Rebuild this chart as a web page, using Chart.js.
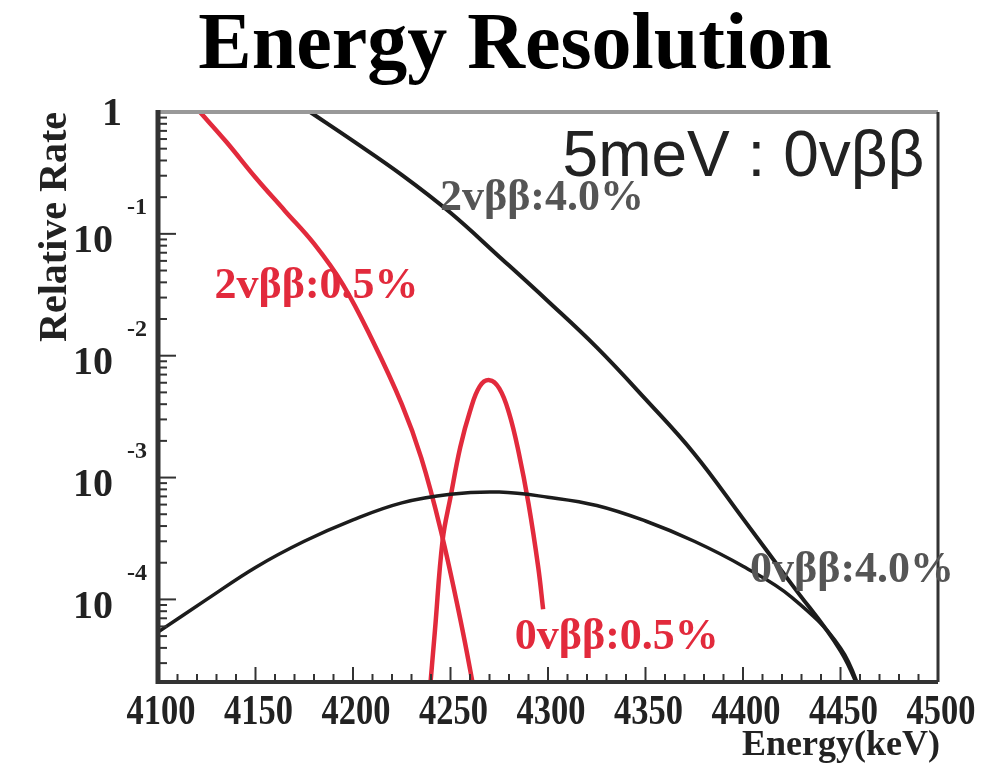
<!DOCTYPE html>
<html>
<head>
<meta charset="utf-8">
<title>Energy Resolution</title>
<script src="https://cdn.jsdelivr.net/npm/chart.js@4/dist/chart.umd.min.js"></script>
<style>
  html, body { margin: 0; padding: 0; background: #fff; }
  canvas { display: block; }
</style>
</head>
<body>
<canvas id="erChart" width="984" height="763"></canvas>
<script>
'use strict';

/* ── data ──────────────────────────────────── */
const energyLabels = [4100, 4150, 4200, 4250, 4300, 4350, 4400, 4450, 4500];
const rateDecades  = [1, 1e-1, 1e-2, 1e-3, 1e-4];

// 2vββ, 0.5% resolution
const red2vE = [4121.5, 4135, 4150, 4165, 4180, 4195, 4210, 4225, 4235, 4245, 4255, 4263];
const red2vR = [1.0, 0.57, 0.29, 0.155, 0.083, 0.038, 0.0133, 4.0e-3, 1.45e-3, 3.7e-4, 6.9e-5, 1.5e-5];

// 0vββ, 0.5% resolution
const red0vE = [4239, 4242, 4246, 4250, 4255, 4260, 4265, 4270, 4275, 4280, 4285, 4290, 4295, 4297.5];
const red0vR = [1.5e-5, 5.5e-5, 3.1e-4, 6.9e-4, 1.77e-3, 3.5e-3, 5.6e-3, 6.3e-3, 5.4e-3, 3.4e-3, 1.6e-3, 6.1e-4, 1.83e-4, 8.3e-5];

// 0vββ, 4.0% resolution
const blk0vE = [4100, 4125, 4150, 4175, 4200, 4225, 4250, 4275, 4300, 4325, 4350, 4375, 4400, 4425, 4450, 4462];
const blk0vR = [5.4e-5, 1.0e-4, 1.83e-4, 3.0e-4, 4.5e-4, 6.2e-4, 7.3e-4, 7.6e-4, 6.9e-4, 5.9e-4, 4.4e-4, 3.0e-4, 1.87e-4, 1.04e-4, 4.0e-5, 1.5e-5];

// 2vββ, 4.0% resolution
const blk2vE = [4178, 4200, 4225, 4250, 4275, 4300, 4325, 4350, 4375, 4400, 4425, 4450, 4462];
const blk2vR = [1.0, 0.58, 0.305, 0.149, 0.065, 0.028, 0.0117, 4.4e-3, 1.57e-3, 4.6e-4, 1.33e-4, 3.8e-5, 1.5e-5];

/* ── styles ────────────────────────────────── */
const RED   = '#e22a3c';
const BLACK = '#1c1c1c';
const GRAY  = '#555';
const SERIF = '"Liberation Serif", "DejaVu Serif", serif';
const SANS  = '"Liberation Sans", Arial, sans-serif';

// text notes, anchored in data coordinates
const notes = [
  { text: '5meV : 0vββ', e: 4493,   r: 0.30,    color: '#222', font: `64px ${SANS}`,       align: 'right' },
  { text: '2vββ:4.0%',   e: 4244.6, r: 0.158,   color: GRAY,   font: `bold 44px ${SERIF}`, align: 'left' },
  { text: '2vββ:0.5%',   e: 4129,   r: 0.030,   color: RED,    font: `bold 44px ${SERIF}`, align: 'left' },
  { text: '0vββ:0.5%',   e: 4283,   r: 3.9e-5,  color: RED,    font: `bold 44px ${SERIF}`, align: 'left' },
  { text: '0vββ:4.0%',   e: 4403.6, r: 1.38e-4, color: GRAY,   font: `bold 44px ${SERIF}`, align: 'left' },
];

/* ── helpers ───────────────────────────────── */
function pts(xs, ys) { return xs.map((x, i) => ({ x, y: ys[i] })); }
function seg(ctx, x1, y1, x2, y2) { ctx.beginPath(); ctx.moveTo(x1, y1); ctx.lineTo(x2, y2); ctx.stroke(); }
function line(data, color, width) {
  return { data, borderColor: color, borderWidth: width, pointRadius: 0, fill: false, tension: 0.4 };
}
// condensed text, like the squeezed ROOT labels
function squeezed(ctx, text, x, y, sx) {
  ctx.save();
  ctx.translate(x, y);
  ctx.scale(sx, 1);
  ctx.fillText(text, 0, 0);
  ctx.restore();
}

/* ── frame, ticks, labels (ROOT style) ────── */
const rootFrame = {
  id: 'rootFrame',
  afterDraw(chart) {
    const { ctx, chartArea: a, scales: { x, y } } = chart;
    ctx.save();

    // inner tick marks
    ctx.strokeStyle = '#333';
    ctx.lineWidth = 2;
    x.ticks.forEach(t => {
      const px = x.getPixelForValue(t.value);
      seg(ctx, px, a.bottom, px, a.bottom - (t.value % 50 === 0 ? 15 : 8));
    });
    y.ticks.forEach(t => {
      const exp = Math.floor(Math.log10(t.value) + 1e-9);
      const sig = t.value / Math.pow(10, exp);
      if (Math.abs(sig - Math.round(sig)) > 1e-6) return;
      const py = y.getPixelForValue(t.value);
      seg(ctx, a.left, py, a.left + (Math.round(sig) === 1 ? 18 : 9), py);
    });

    // frame
    ctx.lineWidth = 4;
    ctx.strokeStyle = '#999';
    seg(ctx, a.left, a.top, a.right, a.top);
    ctx.lineWidth = 3;
    ctx.strokeStyle = '#333';
    seg(ctx, a.right, a.top, a.right, a.bottom);
    ctx.lineWidth = 5;
    seg(ctx, a.left, a.top - 2, a.left, a.bottom + 2);
    ctx.lineWidth = 4;
    seg(ctx, a.left, a.bottom, a.right, a.bottom);

    // x labels
    ctx.fillStyle = '#222';
    ctx.font = `bold 42px ${SERIF}`;
    ctx.textAlign = 'center';
    ctx.textBaseline = 'alphabetic';
    energyLabels.forEach(v => squeezed(ctx, String(v), x.getPixelForValue(v) + 3, a.bottom + 42, 0.82));

    // y labels: 1, 10^-n
    rateDecades.forEach(v => {
      const py = y.getPixelForValue(v);
      const n = Math.round(Math.log10(v));
      ctx.textBaseline = 'middle';
      ctx.textAlign = 'right';
      ctx.font = `bold 40px ${SERIF}`;
      if (n === 0) { ctx.fillText('1', a.left - 36, py + 3); return; }
      ctx.fillText('10', a.left - 45, py + 8);
      ctx.textAlign = 'left';
      ctx.font = `bold 24px ${SERIF}`;
      ctx.fillText(String(n), a.left - 31, py - 26);
    });

    // axis titles
    ctx.font = `bold 36px ${SERIF}`;
    ctx.textAlign = 'right';
    ctx.textBaseline = 'alphabetic';
    ctx.fillText('Energy(keV)', a.right + 2, a.bottom + 73);

    ctx.save();
    ctx.translate(66, a.top);
    ctx.rotate(-Math.PI / 2);
    ctx.font = `bold 40px ${SERIF}`;
    ctx.fillText('Relative Rate', 0, 0);
    ctx.restore();

    // title
    ctx.fillStyle = '#000';
    ctx.font = `bold 80px ${SERIF}`;
    ctx.textAlign = 'center';
    ctx.fillText('Energy Resolution', 515, 68);

    // notes
    notes.forEach(nt => {
      ctx.fillStyle = nt.color;
      ctx.font = nt.font;
      ctx.textAlign = nt.align;
      ctx.fillText(nt.text, x.getPixelForValue(nt.e), y.getPixelForValue(nt.r));
    });

    ctx.restore();
  }
};

/* ── chart ─────────────────────────────────── */
function init() {
  const canvas = document.getElementById('erChart');
  new Chart(canvas.getContext('2d'), {
    type: 'line',
    data: {
      datasets: [
        line(pts(blk2vE, blk2vR), BLACK, 4),
        line(pts(blk0vE, blk0vR), BLACK, 3.5),
        line(pts(red2vE, red2vR), RED, 4.5),
        line(pts(red0vE, red0vR), RED, 4.5),
      ],
    },
    options: {
      responsive: false,
      animation: false,
      events: [],
      layout: { padding: { left: 158, top: 112, right: 46, bottom: 81 } },
      plugins: { legend: { display: false }, tooltip: { enabled: false } },
      scales: {
        x: {
          type: 'linear', min: 4100, max: 4500,
          ticks: { stepSize: 10, display: false },
          grid: { display: false, drawTicks: false },
          border: { display: false },
        },
        y: {
          type: 'logarithmic', min: 2.1e-5, max: 1,
          ticks: { display: false },
          grid: { display: false, drawTicks: false },
          border: { display: false },
        },
      },
    },
    plugins: [rootFrame],
  });
}

document.addEventListener('DOMContentLoaded', init);
</script>
</body>
</html>
